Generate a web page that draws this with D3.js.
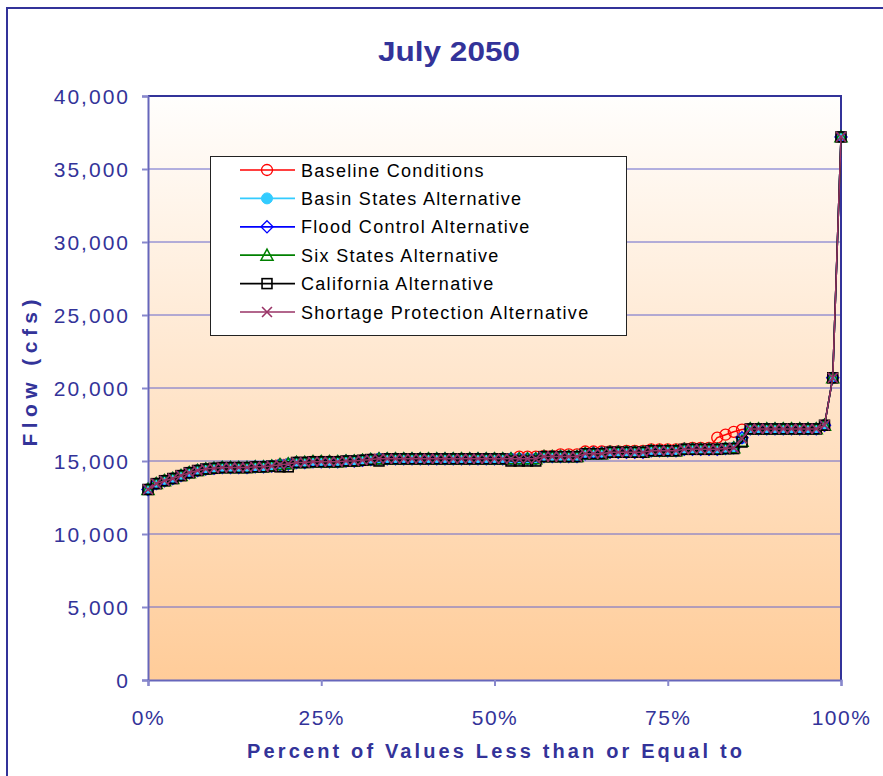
<!DOCTYPE html>
<html>
<head>
<meta charset="utf-8">
<script src="https://cdn.jsdelivr.net/npm/d3@7"></script>
<style>
  html, body { margin: 0; padding: 0; background: #ffffff; }
  svg { display: block; font-family: "Liberation Sans", Arial, sans-serif; }
</style>
</head>
<body>
<svg id="chart" width="883" height="776"></svg>
<script>
// ---------------- DATA ----------------
const chartTitle = "July 2050";
const yAxisTitle = "Flow (cfs)";
const xAxisTitle = "Percent of Values Less than or Equal to";
const xTickValues = [0, 0.25, 0.5, 0.75, 1];
const xTickLabels = ["0%", "25%", "50%", "75%", "100%"];
const yTickValues = [0, 5000, 10000, 15000, 20000, 25000, 30000, 35000, 40000];

const baselineConditions = [
  13050, 13450, 13650, 13800, 14000, 14200, 14350, 14450, 14500, 14550,
  14550, 14550, 14550, 14600, 14600, 14650, 14750, 14800, 14900, 14900,
  14950, 14950, 14950, 14950, 15000, 15000, 15050, 15100, 15150, 15150,
  15150, 15150, 15150, 15150, 15150, 15150, 15150, 15150, 15150, 15150,
  15150, 15150, 15150, 15150, 15150, 15300, 15300, 15300, 15350, 15350,
  15450, 15450, 15450, 15650, 15650, 15650, 15650, 15650, 15700, 15700,
  15700, 15800, 15800, 15800, 15800, 15850, 15900, 15900, 15900, 16600,
  16800, 17000, 17150, 17200, 17200, 17200, 17200, 17200, 17200, 17200,
  17200, 17200, 17450, 20700, 37200
];
const basinStatesAlternative = [
  13050, 13450, 13650, 13800, 14000, 14200, 14350, 14450, 14500, 14550,
  14550, 14550, 14550, 14600, 14600, 14650, 14750, 14800, 14900, 14900,
  14950, 14950, 14950, 14950, 15000, 15000, 15050, 15100, 15150, 15150,
  15150, 15150, 15150, 15150, 15150, 15150, 15150, 15150, 15150, 15150,
  15150, 15150, 15150, 15150, 15150, 15150, 15150, 15150, 15300, 15300,
  15300, 15300, 15300, 15500, 15500, 15500, 15600, 15600, 15600, 15600,
  15600, 15700, 15700, 15700, 15700, 15800, 15800, 15800, 15800, 15800,
  15850, 15900, 16550, 17200, 17200, 17200, 17200, 17200, 17200, 17200,
  17200, 17200, 17450, 20700, 37200
];
const floodControlAlternative = [
  13050, 13450, 13650, 13800, 14000, 14200, 14350, 14450, 14500, 14550,
  14550, 14550, 14550, 14600, 14600, 14650, 14750, 14800, 14900, 14900,
  14950, 14950, 14950, 14950, 15000, 15000, 15050, 15100, 15150, 15150,
  15150, 15150, 15150, 15150, 15150, 15150, 15150, 15150, 15150, 15150,
  15150, 15150, 15150, 15150, 15150, 15150, 15150, 15150, 15300, 15300,
  15300, 15300, 15300, 15500, 15550, 15550, 15600, 15600, 15600, 15600,
  15600, 15700, 15700, 15700, 15700, 15800, 15800, 15800, 15800, 15800,
  15850, 15900, 16600, 17200, 17200, 17200, 17200, 17200, 17200, 17200,
  17200, 17200, 17450, 20700, 37200
];
const sixStatesAlternative = [
  13050, 13450, 13650, 13800, 14000, 14200, 14350, 14450, 14500, 14550,
  14550, 14550, 14550, 14600, 14600, 14650, 14750, 14800, 14900, 14900,
  14950, 14950, 14950, 14950, 15000, 15000, 15050, 15100, 15150, 15150,
  15150, 15150, 15150, 15150, 15150, 15150, 15150, 15150, 15150, 15150,
  15150, 15150, 15150, 15150, 15150, 15150, 15150, 15150, 15300, 15300,
  15300, 15300, 15300, 15500, 15500, 15500, 15600, 15600, 15600, 15600,
  15600, 15700, 15700, 15700, 15700, 15800, 15800, 15800, 15800, 15800,
  15850, 15900, 16350, 17200, 17200, 17200, 17200, 17200, 17200, 17200,
  17200, 17200, 17450, 20700, 37200
];
const californiaAlternative = [
  13050, 13450, 13650, 13800, 14000, 14200, 14350, 14450, 14500, 14550,
  14550, 14550, 14550, 14600, 14600, 14650, 14600, 14600, 14900, 14900,
  14950, 14950, 14950, 14950, 15000, 15000, 15050, 15100, 15000, 15150,
  15150, 15150, 15150, 15150, 15150, 15150, 15150, 15150, 15150, 15150,
  15150, 15150, 15150, 15150, 15000, 15000, 15000, 15000, 15300, 15300,
  15300, 15300, 15300, 15500, 15500, 15500, 15600, 15600, 15600, 15600,
  15600, 15700, 15700, 15700, 15700, 15800, 15800, 15800, 15800, 15800,
  15850, 15850, 16300, 17200, 17200, 17200, 17200, 17200, 17200, 17200,
  17200, 17200, 17450, 20700, 37200
];
const shortageProtectionAlternative = [
  13050, 13450, 13650, 13800, 14000, 14200, 14350, 14450, 14500, 14550,
  14550, 14550, 14550, 14600, 14600, 14650, 14750, 14800, 14900, 14900,
  14950, 14950, 14950, 14950, 15000, 15000, 15050, 15100, 15150, 15150,
  15150, 15150, 15150, 15150, 15150, 15150, 15150, 15150, 15150, 15150,
  15150, 15150, 15150, 15150, 15150, 15150, 15150, 15150, 15300, 15300,
  15300, 15300, 15300, 15500, 15500, 15500, 15600, 15600, 15600, 15600,
  15600, 15700, 15700, 15700, 15700, 15800, 15800, 15800, 15800, 15800,
  15850, 15900, 16550, 17200, 17200, 17200, 17200, 17200, 17200, 17200,
  17200, 17200, 17450, 20700, 37200
];

const seriesNames = [
  "Baseline Conditions",
  "Basin States Alternative",
  "Flood Control Alternative",
  "Six States Alternative",
  "California Alternative",
  "Shortage Protection Alternative"
];
const seriesValues = [
  baselineConditions, basinStatesAlternative, floodControlAlternative,
  sixStatesAlternative, californiaAlternative, shortageProtectionAlternative
];

// ---------------- STYLE ----------------
const seriesStyle = [
  { color: "#FF0000", marker: "circle" },
  { color: "#33CCFF", marker: "dot" },
  { color: "#0000FF", marker: "diamond" },
  { color: "#008000", marker: "triangle" },
  { color: "#000000", marker: "square" },
  { color: "#993366", marker: "x" }
];
const navy = "#333399";

const svg = d3.select("#chart");
const M = { left: 148, right: 841, top: 96, bottom: 680 };

const x = d3.scaleLinear().domain([0, 1]).range([M.left, M.right]);
const y = d3.scaleLinear().domain([0, 40000]).range([M.bottom, M.top]);

// defs: gradient
const defs = svg.append("defs");
const grad = defs.append("linearGradient").attr("id", "bg")
  .attr("x1", 0).attr("y1", 0).attr("x2", 0).attr("y2", 1);
grad.append("stop").attr("offset", "0%").attr("stop-color", "#FFFEFD");
grad.append("stop").attr("offset", "100%").attr("stop-color", "#FFCC99");

// outer chart border
svg.append("rect").attr("x", 7).attr("y", 8).attr("width", 900).attr("height", 800)
  .attr("fill", "#ffffff").attr("stroke", navy).attr("stroke-width", 2);

// plot area
svg.append("rect").attr("x", M.left).attr("y", M.top)
  .attr("width", M.right - M.left).attr("height", M.bottom - M.top)
  .attr("fill", "url(#bg)");

// gridlines
svg.append("g").selectAll("line")
  .data(yTickValues.filter(v => v > 0 && v < 40000))
  .join("line")
  .attr("x1", M.left).attr("x2", M.right)
  .attr("y1", d => y(d)).attr("y2", d => y(d))
  .attr("stroke", "#6666CC").attr("stroke-width", 1);

// plot border top/right
svg.append("path")
  .attr("d", `M${M.left},${M.top}H${M.right}V${M.bottom}`)
  .attr("fill", "none").attr("stroke", navy).attr("stroke-width", 2);

// Y axis
const yAxis = svg.append("g").attr("transform", `translate(${M.left},0)`)
  .call(d3.axisLeft(y).tickValues(yTickValues).tickFormat(d3.format(",")).tickSize(6).tickPadding(12));
yAxis.select(".domain").attr("stroke", "#6666BB").attr("stroke-width", 2);
yAxis.selectAll(".tick line").attr("stroke", "#8888CC").attr("stroke-width", 2);
yAxis.selectAll(".tick text")
  .attr("fill", navy).style("font-size", "21px").style("letter-spacing", "2px")
  .attr("dy", "0.36em");

// X axis
const xAxis = svg.append("g").attr("transform", `translate(0,${M.bottom})`)
  .call(d3.axisBottom(x).tickValues(xTickValues).tickFormat((d, i) => xTickLabels[i]).tickSize(6));
xAxis.select(".domain").attr("stroke", "#6666BB").attr("stroke-width", 2);
xAxis.selectAll(".tick line").attr("stroke", "#8888CC").attr("stroke-width", 2);
xAxis.selectAll(".tick text")
  .attr("fill", navy).style("font-size", "21px").style("letter-spacing", "1.5px")
  .attr("y", 45).attr("dy", 0);

// series
const line = d3.line().x((d, i, arr) => x(i / (arr.length - 1))).y(d => y(d));

function drawMarker(g, style, size) {
  const s = size;
  const c = style.color;
  switch (style.marker) {
    case "circle":
      g.append("circle").attr("r", s * 0.5).attr("fill", "none").attr("stroke", c).attr("stroke-width", 1.3); break;
    case "dot":
      g.append("circle").attr("r", s * 0.5).attr("fill", c).attr("stroke", c).attr("stroke-width", 1); break;
    case "diamond":
      g.append("path").attr("d", `M0,${-s*0.55}L${s*0.55},0L0,${s*0.55}L${-s*0.55},0Z`)
        .attr("fill", "none").attr("stroke", c).attr("stroke-width", 1.3); break;
    case "triangle":
      g.append("path").attr("d", `M0,${-s*0.55}L${s*0.55},${s*0.45}L${-s*0.55},${s*0.45}Z`)
        .attr("fill", "none").attr("stroke", c).attr("stroke-width", 1.5); break;
    case "square":
      g.append("rect").attr("x", -s*0.45).attr("y", -s*0.45).attr("width", s*0.9).attr("height", s*0.9)
        .attr("fill", "none").attr("stroke", c).attr("stroke-width", 1.6); break;
    case "x":
      g.append("path").attr("d", `M${-s*0.45},${-s*0.45}L${s*0.45},${s*0.45}M${-s*0.45},${s*0.45}L${s*0.45},${-s*0.45}`)
        .attr("fill", "none").attr("stroke", c).attr("stroke-width", 1.6); break;
  }
}

seriesValues.forEach((vals, si) => {
  const st = seriesStyle[si];
  const g = svg.append("g");
  g.append("path").datum(vals).attr("d", line)
    .attr("fill", "none").attr("stroke", st.color).attr("stroke-width", 1.5);
  vals.forEach((v, i) => {
    const mg = g.append("g").attr("transform", `translate(${x(i / (vals.length - 1))},${y(v)})`);
    drawMarker(mg, st, 11);
  });
});

// legend
const lg = svg.append("g");
lg.append("rect").attr("x", 210.5).attr("y", 156.5).attr("width", 416).attr("height", 179)
  .attr("fill", "#ffffff").attr("stroke", "#222222").attr("stroke-width", 1);
const rowY = d3.scalePoint().domain(seriesNames).range([170, 312]);
seriesNames.forEach((name, si) => {
  const st = seriesStyle[si];
  const cy = rowY(name);
  lg.append("line").attr("x1", 240).attr("x2", 295).attr("y1", cy).attr("y2", cy)
    .attr("stroke", st.color).attr("stroke-width", 1.7);
  const mg = lg.append("g").attr("transform", `translate(267,${cy})`);
  drawMarker(mg, st, 11);
  lg.append("text").attr("x", 301).attr("y", cy + 6.5)
    .style("font-size", "18px").style("letter-spacing", "1.3px").attr("fill", "#000")
    .text(name);
});

// titles
svg.append("text").attr("x", 449).attr("y", 61).attr("text-anchor", "middle")
  .attr("fill", navy).style("font-size", "27px").style("font-weight", "bold")
  .attr("textLength", 142).attr("lengthAdjust", "spacingAndGlyphs")
  .text(chartTitle);

svg.append("text").attr("transform", "translate(37,373) rotate(-90)").attr("text-anchor", "middle")
  .attr("fill", navy).style("font-size", "21px").style("font-weight", "bold")
  .attr("textLength", 147).attr("lengthAdjust", "spacing")
  .text(yAxisTitle);

svg.append("text").attr("x", 494.5).attr("y", 758).attr("text-anchor", "middle")
  .attr("fill", navy).style("font-size", "20px").style("font-weight", "bold")
  .attr("textLength", 495).attr("lengthAdjust", "spacing")
  .text(xAxisTitle);
</script>
</body>
</html>
